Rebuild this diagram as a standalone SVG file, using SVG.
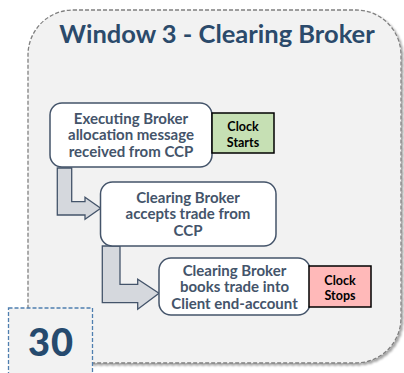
<svg xmlns="http://www.w3.org/2000/svg" width="404" height="373" viewBox="0 0 404 373">
<defs>
<filter id="sh" x="-5%" y="-5%" width="115%" height="115%">
<feDropShadow dx="2" dy="2" stdDeviation="1.2" flood-color="#000" flood-opacity="0.35"/>
</filter>
</defs>
<style>
.node{fill:#fff;stroke:#44546a;stroke-width:1.5}
.nt{font-family:Lato,"Liberation Sans",sans-serif;font-weight:bold;font-size:15px;fill:#44546a;text-anchor:middle}
.ct{font-family:Lato,"Liberation Sans",sans-serif;font-weight:bold;font-size:12.5px;fill:#000;text-anchor:middle}
.arr{fill:#d5d8dd;stroke:#44546a;stroke-width:1.3;stroke-linejoin:miter}
</style>
<rect width="404" height="373" fill="#fff"/>
<g id="frame">
<rect x="28" y="10" width="373" height="353" rx="45" ry="45" fill="#f2f2f2" stroke="#808080" stroke-width="1.3" stroke-dasharray="4,2" filter="url(#sh)"/>
<text x="217" y="43" font-family="Lato,'Liberation Sans',sans-serif" font-weight="bold" font-size="25.5" fill="#2b4a6b" text-anchor="middle">Window 3 - Clearing Broker</text>
</g>
<g id="connectors">
<path class="arr" d="M57.3,168 V215 H85 V219.3 L100.7,208.3 L85,197.3 V201.7 H71.7 V168 Z"/>
<path class="arr" d="M102.3,246 V302.7 H137.7 V309.3 L159,293.3 L137.7,279.3 V284.3 H120 V246 Z"/>
</g>
<g id="node1">
<rect class="node" x="50" y="103" width="162" height="64" rx="12"/>
<text class="nt" x="131" y="123.5">Executing Broker</text>
<text class="nt" x="131" y="140">allocation message</text>
<text class="nt" x="131" y="156.5">received from CCP</text>
</g>
<g id="clockStarts">
<rect x="212" y="113" width="62" height="40" fill="#c6e0b4" stroke="#000" stroke-width="1.5"/>
<text class="ct" x="243" y="131">Clock</text>
<text class="ct" x="243" y="147">Starts</text>
</g>
<g id="node2">
<rect class="node" x="100.5" y="182" width="175.5" height="64" rx="12"/>
<text class="nt" x="188" y="202.5">Clearing Broker</text>
<text class="nt" x="188" y="219">accepts trade from</text>
<text class="nt" x="188" y="235.5">CCP</text>
</g>
<g id="node3">
<rect class="node" x="159" y="258" width="151" height="57" rx="12"/>
<text class="nt" x="234.5" y="275.5">Clearing Broker</text>
<text class="nt" x="234.5" y="292">books trade into</text>
<text class="nt" x="234.5" y="308.5">Client end-account</text>
</g>
<g id="clockStops">
<rect x="309" y="266" width="62" height="41" fill="#ffb9b9" stroke="#000" stroke-width="1.5"/>
<text class="ct" x="340" y="285">Clock</text>
<text class="ct" x="340" y="300">Stops</text>
</g>
<g id="badge">
<rect x="8.5" y="308" width="84" height="70" fill="#f2f2f2" stroke="#4f7fb0" stroke-width="1.3" stroke-dasharray="4,2"/>
<text x="51" y="356" font-family="Lato,'Liberation Sans',sans-serif" font-weight="900" font-size="38" letter-spacing="1" fill="#264a6e" text-anchor="middle">30</text>
</g>
</svg>
